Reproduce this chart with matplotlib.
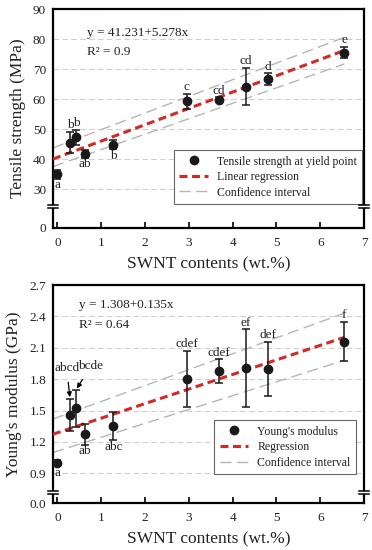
import numpy as np
import matplotlib
matplotlib.use("Agg")
import matplotlib.pyplot as plt
from matplotlib.lines import Line2D
import matplotlib.transforms as mtransforms

plt.rcParams['font.family'] = ['Liberation Serif', 'DejaVu Serif']

# ---------------- data ----------------
swnt = [0.0, 0.29, 0.43, 0.62, 1.28, 2.95, 3.68, 4.30, 4.80, 6.55]

ts = [35.0, 45.5, 47.2, 41.7, 44.8, 59.2, 59.8, 64.1, 66.7, 75.5]
ts_err = [1.5, 3.6, 2.6, 1.3, 1.5, 2.5, 0.8, 6.2, 1.9, 1.8]
ts_letters = ['a', 'b', 'b', 'ab', 'b', 'c', 'cd', 'cd', 'd', 'e']
ts_pos = ['below', 'above', 'above', 'below', 'below', 'above', 'above', 'above', 'above', 'above']

ym = [1.00, 1.46, 1.52, 1.275, 1.35, 1.80, 1.875, 1.905, 1.90, 2.16]
ym_err = [0.03, 0.155, 0.18, 0.10, 0.135, 0.27, 0.115, 0.37, 0.26, 0.19]
ym_letters = ['a', 'abcd', 'bcde', 'ab', 'abc', 'cdef', 'cdef', 'ef', 'def', 'f']
ym_pos = ['below', 'arrowL', 'arrowR', 'below', 'below', 'above', 'above', 'above', 'above', 'above']

# regression lines and confidence bands (intercept, slope) as drawn
ts_fit = (40.54, 5.44)
ts_ci_up = (44.25, 5.54)
ts_ci_lo = (38.0, 5.14)
ym_fit = (1.288, 0.1392)
ym_ci_up = (1.435, 0.152)
ym_ci_lo = (1.113, 0.1324)
fit_x_range = (-0.1, 6.55)

ts_eq = ["y = 41.231+5.278x", "R\u00b2 = 0.9"]
ym_eq = ["y = 1.308+0.135x", "R\u00b2 = 0.64"]

ts_yticks = [0, 30, 40, 50, 60, 70, 80, 90]
ym_yticks = [0.0, 0.9, 1.2, 1.5, 1.8, 2.1, 2.4, 2.7]
xticks = [0, 1, 2, 3, 4, 5, 6, 7]

# ---------------- scales with axis break ----------------
def ts_fwd(y):
    y = np.asarray(y, float)
    return np.where(y >= 30, y, 17 + y * 13 / 30)

def ts_inv(t):
    t = np.asarray(t, float)
    return np.where(t >= 30, t, (t - 17) * 30 / 13)

def ym_fwd(y):
    y = np.asarray(y, float)
    return np.where(y >= 0.9, y, 0.617 + y * 0.283 / 0.9)

def ym_inv(t):
    t = np.asarray(t, float)
    return np.where(t >= 0.9, t, (t - 0.617) * 0.9 / 0.283)

W, H = 372, 550
fig = plt.figure(figsize=(W / 100, H / 100), dpi=100)

ax1 = fig.add_axes([53 / W, 1 - 228 / H, 311 / W, 219 / H])
ax2 = fig.add_axes([53 / W, 1 - 503 / H, 311 / W, 218 / H])

RED = '#d42a26'
GRAY = '#b5b5b5'
TXT = '#222222'


def draw_break(ax, inv, t_center, t_half):
    trans = mtransforms.blended_transform_factory(ax.transAxes, ax.transData)
    y1 = float(inv(t_center - t_half))
    y2 = float(inv(t_center + t_half))
    for xa in (0, 1):
        ax.plot([xa, xa], [y1, y2], color='white', lw=4, transform=trans,
                clip_on=False, zorder=10, solid_capstyle='butt')
        for yy in (y1, y2):
            ax.plot([xa - 0.017, xa + 0.017], [yy, yy], color='black', lw=1.1,
                    transform=trans, clip_on=False, zorder=11)


def setup(ax, fwd, inv, yticks, ylabel):
    ax.set_yscale('function', functions=(fwd, inv))
    ax.set_xlim(-0.1, 7.0)
    ax.set_ylim(yticks[0], yticks[-1])
    ax.set_yticks(yticks)
    ax.set_xticks(xticks)
    ax.yaxis.grid(True, linestyle=(0, (5, 3)), color='#cfcfcf', lw=0.8)
    ax.set_axisbelow(True)
    ax.tick_params(axis='x', direction='in', length=4, width=1.2, labelsize=9.5,
                   pad=6.5, labelcolor=TXT)
    ax.tick_params(axis='y', direction='in', length=0, labelsize=9.5, pad=5,
                   labelcolor=TXT)
    for s in ax.spines.values():
        s.set_linewidth(1.6)
    ax.set_xlabel('SWNT contents (wt.%)', fontsize=12.5, labelpad=5, color=TXT)
    ax.set_ylabel(ylabel, fontsize=12.5, labelpad=5, color=TXT)


def line_xy(coef):
    xs = np.array(fit_x_range)
    return xs, coef[0] + coef[1] * xs


# ---------------- top panel ----------------
setup(ax1, ts_fwd, ts_inv, ts_yticks, 'Tensile strength (MPa)')
ax1.set_yticklabels([str(v) for v in ts_yticks])
for coef in (ts_ci_up, ts_ci_lo):
    xs, ys = line_xy(coef)
    ax1.plot(xs, ys, color=GRAY, lw=1.0, dashes=(8, 4), zorder=2)
xs, ys = line_xy(ts_fit)
ax1.plot(xs, ys, color=RED, lw=2.2, dashes=(2.6, 1.5), zorder=3)
ax1.errorbar(swnt, ts, yerr=ts_err, fmt='o', color='#1a1a1a', ms=6,
             capsize=3, elinewidth=1.1, capthick=1.1, zorder=4)
for x, y, e, lab, pos in zip(swnt, ts, ts_err, ts_letters, ts_pos):
    if pos == 'above':
        ax1.annotate(lab, (x, y + e), xytext=(0, 0.5), textcoords='offset points',
                     ha='center', va='bottom', fontsize=9.5, color=TXT)
    else:
        ax1.annotate(lab, (x, y - e), xytext=(0, -0.5), textcoords='offset points',
                     ha='center', va='top', fontsize=9.5, color=TXT)
ax1.text(0.109, 0.89, ts_eq[0], transform=ax1.transAxes, fontsize=9.5, va='center', color=TXT)
ax1.text(0.109, 0.804, ts_eq[1], transform=ax1.transAxes, fontsize=9.5, va='center', color=TXT)
draw_break(ax1, ts_inv, 24.2, 0.5)

h1 = [Line2D([], [], marker='o', color='#1a1a1a', ls='none', ms=6),
      Line2D([], [], color=RED, lw=2.2, dashes=(2.6, 1.5)),
      Line2D([], [], color=GRAY, lw=1.0, dashes=(8, 4))]
leg1 = ax1.legend(h1, ['Tensile strength at yield point', 'Linear regression', 'Confidence interval'],
                  loc='lower right', bbox_to_anchor=(0.995, 0.11), borderaxespad=0,
                  fontsize=8.5, frameon=True, fancybox=False, framealpha=1,
                  edgecolor='#666666', handlelength=2.4, labelspacing=0.3,
                  borderpad=0.45, handletextpad=0.8)
leg1.get_frame().set_linewidth(0.8)
for t in leg1.get_texts():
    t.set_color(TXT)

# ---------------- bottom panel ----------------
setup(ax2, ym_fwd, ym_inv, ym_yticks, "Young's modulus (GPa)")
ax2.set_yticklabels(['%.1f' % v for v in ym_yticks])
for coef in (ym_ci_up, ym_ci_lo):
    xs, ys = line_xy(coef)
    ax2.plot(xs, ys, color=GRAY, lw=1.0, dashes=(8, 4), zorder=2)
xs, ys = line_xy(ym_fit)
ax2.plot(xs, ys, color=RED, lw=2.2, dashes=(2.6, 1.5), zorder=3)
ax2.errorbar(swnt, ym, yerr=ym_err, fmt='o', color='#1a1a1a', ms=6,
             capsize=3, elinewidth=1.1, capthick=1.1, zorder=4)
for x, y, e, lab, pos in zip(swnt, ym, ym_err, ym_letters, ym_pos):
    if pos == 'above':
        ax2.annotate(lab, (x, y + e), xytext=(0, 0.5), textcoords='offset points',
                     ha='center', va='bottom', fontsize=9.5, color=TXT)
    elif pos == 'below':
        ax2.annotate(lab, (x, y - e), xytext=(0, -0.5), textcoords='offset points',
                     ha='center', va='top', fontsize=9.5, color=TXT)
    elif pos == 'arrowL':
        ax2.annotate(lab, (x, y + e), xytext=(-2.5, 22), textcoords='offset points',
                     ha='center', va='center', fontsize=9.5, color=TXT,
                     arrowprops=dict(arrowstyle='-|>', color='black', lw=0.9,
                                     mutation_scale=7, shrinkA=4, shrinkB=1))
    else:
        ax2.annotate(lab, (x, y + e), xytext=(10.5, 17), textcoords='offset points',
                     ha='center', va='center', fontsize=9.5, color=TXT,
                     arrowprops=dict(arrowstyle='-|>', color='black', lw=0.9,
                                     mutation_scale=7, shrinkA=4, shrinkB=1))
ax2.text(0.084, 0.908, ym_eq[0], transform=ax2.transAxes, fontsize=9.5, va='center', color=TXT)
ax2.text(0.084, 0.817, ym_eq[1], transform=ax2.transAxes, fontsize=9.5, va='center', color=TXT)
draw_break(ax2, ym_inv, 0.72, 0.0143)

h2 = [Line2D([], [], marker='o', color='#1a1a1a', ls='none', ms=6),
      Line2D([], [], color=RED, lw=2.2, dashes=(2.6, 1.5)),
      Line2D([], [], color=GRAY, lw=1.0, dashes=(8, 4))]
leg2 = ax2.legend(h2, ["Young's modulus", 'Regression', 'Confidence interval'],
                  loc='lower right', bbox_to_anchor=(0.974, 0.133), borderaxespad=0,
                  fontsize=8.5, frameon=True, fancybox=False, framealpha=1,
                  edgecolor='#666666', handlelength=2.4, labelspacing=0.3,
                  borderpad=0.45, handletextpad=0.8)
leg2.get_frame().set_linewidth(0.8)
for t in leg2.get_texts():
    t.set_color(TXT)

fig.savefig('out.png', dpi=100)
